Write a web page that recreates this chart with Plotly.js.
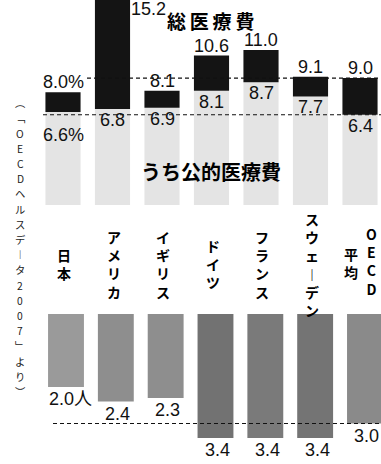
<!DOCTYPE html>
<html><head><meta charset="utf-8">
<script src="https://cdn.plot.ly/plotly-3.0.1.min.js"></script>
<style>html,body{margin:0;padding:0;background:#fff;}#chart{width:381px;height:464px;}</style>
</head><body><div id="chart"></div>
<script>
// ---- data ----
const countries = ["日本", "アメリカ", "イギリス", "ドイツ", "フランス", "スウェーデン", "OECD平均"];
const totalPct  = [8.0, 15.2, 8.1, 10.6, 11.0, 9.1, 9.0];   // 総医療費 (% of GDP)
const publicPct = [6.6, 6.8, 6.9, 8.1, 8.7, 7.7, 6.4];      // うち公的医療費
const doctors   = [2.0, 2.4, 2.3, 3.4, 3.4, 3.4, 3.0];      // 医師数 (人 / 1000)
const titleTotal  = "総医療費";
const titlePublic = "うち公的医療費";
const sourceNote  = "（「OECDヘルスデータ2007」より）";

// ---- layout geometry / style ----
const W = 381, H = 464;
const topBase = 205, topScale = 14.1;      // px
const botBase = 314, botScale = 36.5;
const topYmax = topBase / topScale;
const botYmax = (H - botBase) / botScale;
const x1c0 = 63, x1step = 49.5, x2c0 = 66, x2step = 49.83;
const numFont = {family: "Liberation Sans, Arial, Noto Sans CJK JP, sans-serif", size: 18, color: "#111"};
const catFont = {family: "Noto Sans CJK JP, sans-serif", size: 14, color: "#000"};
const botColors = ["#9a9a9a", "#8e8e8e", "#8e8e8e", "#727272", "#7a7a7a", "#747474", "#8a8a8a"];

const idx = countries.map((_, i) => i);
const fmt = v => v.toFixed(1);

const traces = [
  {type: "bar", x: idx, y: publicPct, base: 0, width: 0.71,
   marker: {color: "#e4e4e4", line: {width: 0}}, xaxis: "x", yaxis: "y", hoverinfo: "skip"},
  {type: "bar", x: idx, y: totalPct.map((t, i) => +(t - publicPct[i]).toFixed(2)), base: publicPct, width: 0.71,
   marker: {color: "#141414", line: {width: 0}}, xaxis: "x", yaxis: "y", hoverinfo: "skip"},
  {type: "bar", x: idx, y: doctors, base: 0, width: 0.72,
   marker: {color: botColors, line: {width: 0}}, xaxis: "x2", yaxis: "y2", hoverinfo: "skip"}
];

const ann = [];
// total labels
totalPct.forEach((v, i) => {
  const over = v > topYmax;
  ann.push({xref: "x", yref: "y", x: i, y: over ? topYmax : v, text: fmt(v) + (i === 0 ? "%" : ""),
    showarrow: false, xanchor: "center", yanchor: "middle", yshift: over ? -9 : 10, xshift: over ? 36 : 0, font: numFont});
});
// public labels
publicPct.forEach((v, i) => {
  ann.push({xref: "x", yref: "y", x: i, y: v, text: fmt(v) + (i === 0 ? "%" : ""),
    showarrow: false, xanchor: "center", yanchor: "middle", yshift: i === 0 ? -23 : -11, font: numFont});
});
// doctor labels
doctors.forEach((v, i) => {
  ann.push({xref: "x2", yref: "y2", x: i, y: v, text: fmt(v) + (i === 0 ? "人" : ""),
    showarrow: false, xanchor: "center", yanchor: "middle", yshift: -12, xshift: i === 0 ? 4 : 2, font: numFont});
});

// vertical text helpers
const vmap = {"（": "︵", "）": "︶", "「": "﹁", "」": "﹂", "ー": "︱"};
const vchars = s => s.split("").map(c => vmap[c] || c);
// category labels: one multi-line annotation per column
function vcol(str, i, xshift, yc) {
  ann.push({xref: "x", yref: "paper", x: i, y: 1 - yc / H, text: "<b>" + vchars(str).join("<br>") + "</b>",
    showarrow: false, xanchor: "center", yanchor: "middle", align: "center", xshift: xshift, font: catFont});
}
countries.forEach((c, i) => {
  const m = c.match(/^([A-Z]+)(.+)$/);
  if (m) {
    vcol(m[1], i, 11, 261);
    vcol(m[2], i, -9, 263);
  } else {
    vcol(c, i, 1, 264);
  }
});
// source note: one annotation per character
(function () {
  const chars = vchars(sourceNote), n = chars.length, step = 15.2, yc = 247;
  chars.forEach((c, k) => {
    const py = yc + (k - (n - 1) / 2) * step;
    ann.push({xref: "paper", yref: "paper", x: 20 / W, y: 1 - py / H, text: c, showarrow: false,
      xanchor: "center", yanchor: "middle", font: {family: "Noto Sans CJK JP, sans-serif", size: 10.3, color: "#222"}});
  });
})();

// titles
ann.push({xref: "paper", yref: "paper", x: 210 / W, y: 1 - 20 / H, text: "<b>" + titleTotal.split("").join("\u2009") + "</b>",
  showarrow: false, xanchor: "center", yanchor: "middle", font: {family: "Noto Sans CJK JP, sans-serif", size: 19, color: "#000"}});
ann.push({xref: "paper", yref: "paper", x: 211 / W, y: 1 - 171 / H, text: "<b>" + titlePublic + "</b>",
  showarrow: false, xanchor: "center", yanchor: "middle", font: {family: "Noto Sans CJK JP, sans-serif", size: 20, color: "#000"}});

const dashLine = {color: "#111", width: 1.1, dash: "4px,3px"};
const shapes = [
  {type: "line", xref: "paper", yref: "y", x0: 87 / W, x1: 1, y0: totalPct[6], y1: totalPct[6], line: dashLine, layer: "above"},
  {type: "line", xref: "paper", yref: "y", x0: 43 / W, x1: 1, y0: publicPct[6], y1: publicPct[6], line: dashLine, layer: "above"},
  {type: "line", xref: "paper", yref: "y2", x0: 53 / W, x1: 1, y0: doctors[6], y1: doctors[6], line: dashLine, layer: "above"}
];

const layout = {
  width: W, height: H, margin: {l: 0, r: 0, t: 0, b: 0},
  paper_bgcolor: "#fff", plot_bgcolor: "rgba(0,0,0,0)", showlegend: false, barmode: "overlay",
  xaxis:  {domain: [0, 1], range: [-x1c0 / x1step, (W - x1c0) / x1step], visible: false, fixedrange: true},
  yaxis:  {domain: [1 - topBase / H, 1], range: [0, topYmax], visible: false, fixedrange: true},
  xaxis2: {domain: [0, 1], anchor: "y2", range: [-x2c0 / x2step, (W - x2c0) / x2step], visible: false, fixedrange: true},
  yaxis2: {domain: [0, 1 - botBase / H], anchor: "x2", range: [botYmax, 0], visible: false, fixedrange: true},
  shapes: shapes, annotations: ann
};
Plotly.newPlot("chart", traces, layout, {staticPlot: true, displayModeBar: false});
</script></body></html>
